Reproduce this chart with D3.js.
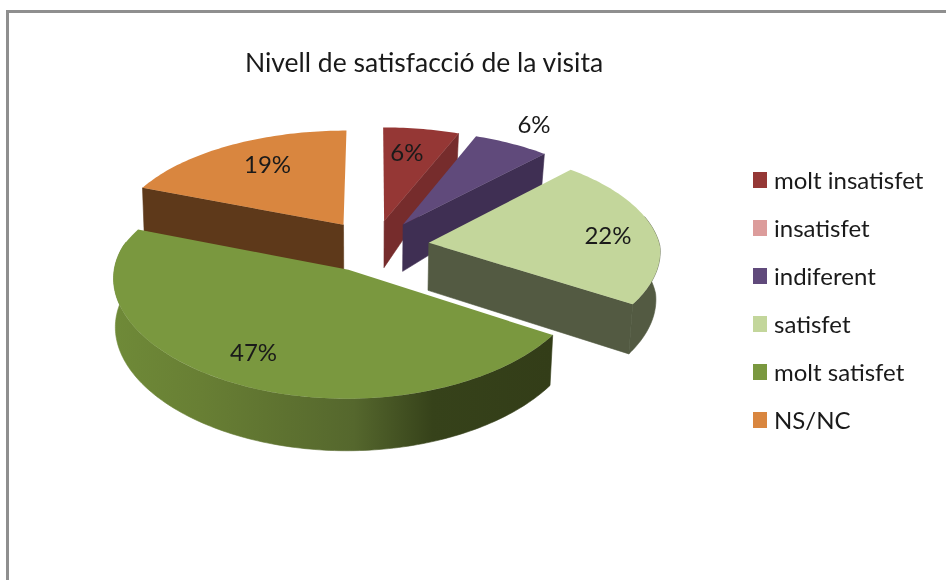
<!DOCTYPE html>
<html>
<head>
<meta charset="utf-8">
<script src="https://cdnjs.cloudflare.com/ajax/libs/d3/7.8.5/d3.min.js"></script>
<style>
  html, body { margin: 0; padding: 0; background: #fff; }
  svg { display: block; filter: blur(0.45px); }
  text { font-family: Lato, "Open Sans", sans-serif; fill: #1a1a1a; }
</style>
</head>
<body>
<svg id="chart" width="946" height="580"></svg>
<script>
const chartTitle = 'Nivell de satisfacció de la visita';
const categories = ['molt insatisfet', 'insatisfet', 'indiferent', 'satisfet', 'molt satisfet', 'NS/NC'];
const percents = [6, 0, 6, 22, 47, 19];

const topColors = ['#953735', '#dc9c9b', '#604a7b', '#c3d69b', '#7a983f', '#d9863f'];
const wallColors = ['#762c2c', '#a87a79', '#3f2f53', '#535a42', '#333d18', '#5e391a'];
// how far along its radius each label sits (the 6% of indiferent is outside)
const labelReach = [0.70, 0, 1.25, 0.80, 0.76, 0.70];
const labelNudge = [[-4, -3], [0, 0], [-2, -2], [-1, 3], [-9, -2], [6, -4]];

const svg = d3.select('#chart');
const TAU = 2 * Math.PI;

// frame, only top and left are visible in the picture
svg.append('rect').attr('x', 6).attr('y', 10).attr('width', 945).attr('height', 3).attr('fill', '#8f8f8f');
svg.append('rect').attr('x', 6).attr('y', 10).attr('width', 3).attr('height', 575).attr('fill', '#8f8f8f');

svg.append('text')
  .attr('x', 424).attr('y', 72)
  .attr('text-anchor', 'middle')
  .attr('font-size', 26.5)
  .text(chartTitle);

// the projection of the tilted pie
const cx = 374, cy = 246;
const scaleX = 231, scaleY = 109, persp = 0.11, explode = 0.24;
// wall height as function of the distance from the viewer
const wallHeight = d3.scaleLinear()
  .domain([-1.2, 0.2, 0.55, 0.91, 1.15])
  .range([52, 47, 44, 32, 27]);

function project(X, Y, lower) {
  const s = 1 / (1 + persp * Y);
  // the near side widens less than it drops
  const sx = Y < 0 ? 1 / (1 + 0.6 * persp * Y) : s;
  let x = cx + scaleX * X * sx;
  let y = cy - scaleY * Y * s;
  if (lower) {
    x = cx + (x - cx) * (x < cx ? 0.993 : 0.985);
    y += wallHeight(Y);
  }
  return [x, y];
}

// local point of a slice; r in pie radii, angle clockwise from the top
function slicePoint(d, r, a, lower) {
  const mid = (d.startAngle + d.endAngle) / 2;
  const X = explode * Math.sin(mid) + r * Math.sin(a);
  const Y = explode * Math.cos(mid) + r * Math.cos(a);
  return project(X, Y, lower);
}

function arcAngles(a0, a1) {
  const n = Math.max(2, Math.ceil((a1 - a0) / 0.02));
  return d3.range(n + 1).map(i => a0 + (a1 - a0) * i / n);
}

const line = d3.line().curve(d3.curveLinearClosed);

const pie = d3.pie().sort(null).value(d => d);
const slices = pie(percents).map((d, i) => ({ ...d, i }))
  .filter(d => d.value > 0)
  .sort((a, b) => Math.cos((b.startAngle + b.endAngle) / 2) - Math.cos((a.startAngle + a.endAngle) / 2));

// gradient of the big outer wall
const defs = svg.append('defs');
const grad = defs.append('linearGradient')
  .attr('id', 'greenWall')
  .attr('gradientUnits', 'userSpaceOnUse')
  .attr('x1', 113).attr('x2', 551).attr('y1', 0).attr('y2', 0);
[[0, '#6f8a38'], [0.2, '#687f34'], [0.55, '#55672d'], [0.73, '#36421a'], [1, '#333d18']]
  .forEach(s => grad.append('stop').attr('offset', s[0]).attr('stop-color', s[1]));

const pieG = svg.append('g');

slices.forEach(d => {
  const g = pieG.append('g');
  const fill = d.i === 4 ? 'url(#greenWall)' : wallColors[d.i];

  // cut faces, drawn only when they look towards the viewer
  [d.startAngle, d.endAngle].forEach((a, k) => {
    const facing = k === 0 ? Math.sin(a) < -0.01 : Math.sin(a) > 0.01;
    if (!facing) return;
    const quad = [
      slicePoint(d, 0, a, false),
      slicePoint(d, 1, a, false),
      slicePoint(d, 1, a, true),
      slicePoint(d, 0, a, true)
    ];
    g.append('path').attr('d', line(quad)).attr('fill', fill).attr('stroke', fill).attr('stroke-width', 0.6);
  });

  // outer wall, a bit more than the near half because of the perspective
  const a0 = Math.max(d.startAngle, TAU / 4 - 0.25);
  const a1 = Math.min(d.endAngle, 3 * TAU / 4 + 0.25);
  if (a1 > a0) {
    const as = arcAngles(a0, a1);
    const pts = as.map(a => slicePoint(d, 1, a, false))
      .concat(as.slice().reverse().map(a => slicePoint(d, 1, a, true)));
    g.append('path').attr('d', line(pts)).attr('fill', fill).attr('stroke', fill).attr('stroke-width', 0.6);
  }

  // top surface
  const top = [slicePoint(d, 0, d.startAngle, false)]
    .concat(arcAngles(d.startAngle, d.endAngle).map(a => slicePoint(d, 1, a, false)));
  g.append('path').attr('d', line(top)).attr('fill', topColors[d.i]);
});

// percent labels
slices.forEach(d => {
  const mid = (d.startAngle + d.endAngle) / 2;
  const p = slicePoint(d, labelReach[d.i], mid, false);
  svg.append('text')
    .attr('x', p[0] + labelNudge[d.i][0]).attr('y', p[1] + labelNudge[d.i][1])
    .attr('text-anchor', 'middle')
    .attr('dominant-baseline', 'central')
    .attr('font-size', 24)
    .text(d.value + '%');
});

// legend
const legendY = d3.scalePoint().domain(categories).range([180, 420]);
const legend = svg.append('g').selectAll('g').data(categories).join('g')
  .attr('transform', d => `translate(753, ${legendY(d)})`);
legend.append('rect')
  .attr('x', 0).attr('y', -8).attr('width', 14).attr('height', 16)
  .attr('fill', (d, i) => topColors[i]);
legend.append('text')
  .attr('x', 21).attr('y', -1)
  .attr('dominant-baseline', 'central')
  .attr('font-size', 24)
  .text(d => d);
</script>
</body>
</html>
